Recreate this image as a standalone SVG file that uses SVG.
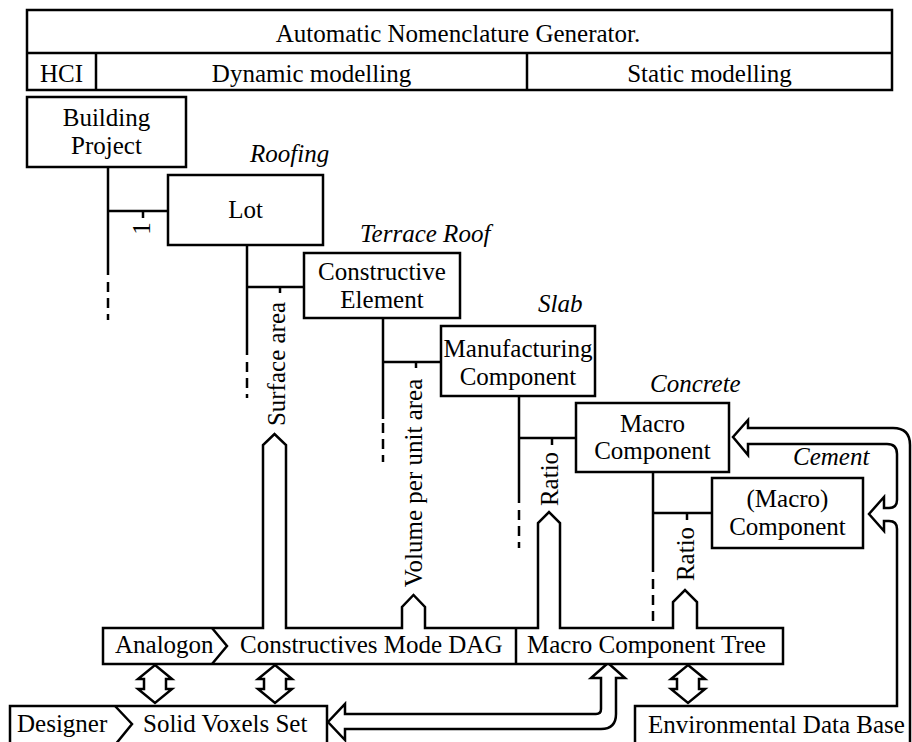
<svg xmlns="http://www.w3.org/2000/svg" width="912" height="742" viewBox="0 0 912 742">
<style>
.t{font-size:25px;fill:#000;font-family:'Liberation Serif','Times New Roman',serif}
.c{text-anchor:middle}
.i{font-style:italic}
.b{fill:#fff;stroke:#000;stroke-width:2.5}
.l{fill:none;stroke:#000;stroke-width:2.5}
.d{fill:none;stroke:#000;stroke-width:2.5;stroke-dasharray:10 6}
.h{fill:#fff;stroke:#000;stroke-width:2.5;stroke-linejoin:miter}
</style>
<rect width="912" height="742" fill="#fff"/>

<g id="header">
<rect class="b" x="27" y="10" width="865" height="80"/>
<line class="l" x1="27" y1="53" x2="892" y2="53"/>
<line class="l" x1="96" y1="53" x2="96" y2="90"/>
<line class="l" x1="527" y1="53" x2="527" y2="90"/>
<text class="t c" x="458" y="42">Automatic Nomenclature Generator.</text>
<text class="t c" x="61.5" y="82">HCI</text>
<text class="t c" x="311.5" y="82">Dynamic modelling</text>
<text class="t c" x="709.5" y="82">Static modelling</text>
</g>

<g id="connectors">
<line class="l" x1="108" y1="167" x2="108" y2="275"/>
<line class="d" x1="108" y1="282" x2="108" y2="320" stroke-dasharray="11 6"/>
<line class="l" x1="108" y1="211" x2="168" y2="211"/>
<line class="l" x1="143" y1="211" x2="143" y2="218"/>
<text class="t c" transform="translate(150,228.5) rotate(-90)">1</text>
<line class="l" x1="247" y1="245" x2="247" y2="355"/>
<line class="d" x1="247" y1="362" x2="247" y2="398" stroke-dasharray="8 5"/>
<line class="l" x1="247" y1="287" x2="304" y2="287"/>
<line class="l" x1="280" y1="287" x2="280" y2="293"/>
<text class="t c" transform="translate(285,364) rotate(-90)">Surface area</text>
<line class="l" x1="383" y1="318" x2="383" y2="419"/>
<line class="d" x1="383" y1="423" x2="383" y2="462" stroke-dasharray="10 5"/>
<line class="l" x1="383" y1="362" x2="441" y2="362"/>
<line class="l" x1="416" y1="362" x2="416" y2="368"/>
<text class="t c" transform="translate(422,483) rotate(-90)">Volume per unit area</text>
<line class="l" x1="519" y1="396" x2="519" y2="503"/>
<line class="d" x1="519" y1="510" x2="519" y2="548" stroke-dasharray="10 5"/>
<line class="l" x1="519" y1="438" x2="576" y2="438"/>
<line class="l" x1="552" y1="438" x2="552" y2="445"/>
<text class="t c" transform="translate(558,479) rotate(-90)">Ratio</text>
<line class="l" x1="653" y1="472" x2="653" y2="572"/>
<line class="d" x1="653" y1="579" x2="653" y2="624" stroke-dasharray="10 6"/>
<line class="l" x1="653" y1="513" x2="712" y2="513"/>
<line class="l" x1="687" y1="513" x2="687" y2="520"/>
<text class="t c" transform="translate(694,554) rotate(-90)">Ratio</text>

<path class="h" d="M155,665 L172,679 L166,679 L166,689 L172,689 L155,703 L138,689 L144,689 L144,679 L138,679 Z"/>
<path class="h" d="M275,665 L292,679 L286,679 L286,689 L292,689 L275,703 L258,689 L264,689 L264,679 L258,679 Z"/>
<path class="h" d="M688,665 L705,679 L699,679 L699,689 L705,689 L688,703 L671,689 L677,689 L677,679 L671,679 Z"/>

<path class="h" d="M608,663 L625,678 L616,678 V714 Q616,729 601,729 H345 V740 L328,722 L345,704 V714 H596 Q601,714 601,709 V678 L591,678 Z"/>

<path class="l" d="M910,745 V445 Q910,428 893,428 H748 V420 L733,437 L748,455 V444 H887 Q897,444 897,454 V500 Q897,508 889,508 H884 V497 L869,514 L884,531 V521 H889 Q897,521 897,529 V706 H635 V745"/>
</g>

<g id="bar">
<path class="b" d="M103,628 H263 V445 L274.5,434 L286,445 V628 H402 V607 L413.5,595 L425,607 V628 H538 V523 L549,512 L560,523 V628 H673 V602 L685,590 L697,602 V628 H783 V664 H103 Z"/>
<polyline class="l" points="212,628 227,646 212,664"/>
<line class="l" x1="516" y1="628" x2="516" y2="664"/>
<text class="t" x="115" y="653">Analogon</text>
<text class="t" x="240" y="653">Constructives Mode DAG</text>
<text class="t" x="527" y="653">Macro Component Tree</text>
</g>

<g id="solid-voxels">
<rect class="b" x="10" y="706" width="317" height="40"/>
<polyline class="l" points="115,706 132,724 115,745"/>
<text class="t" x="17" y="732">Designer</text>
<text class="t" x="143" y="732">Solid Voxels Set</text>
</g>

<g id="env-db">
<text class="t" x="648" y="733">Environmental Data Base</text>
</g>

<g id="building-project">
<rect class="b" x="27" y="97" width="159" height="70"/>
<text class="t c" x="106.5" y="126">Building</text>
<text class="t c" x="106.5" y="154">Project</text>
</g>

<g id="lot">
<rect class="b" x="168" y="175" width="155" height="70"/>
<text class="t c" x="245.5" y="218">Lot</text>
<text class="t i" x="250" y="162">Roofing</text>
</g>

<g id="constructive-element">
<rect class="b" x="304" y="253" width="156" height="65"/>
<text class="t c" x="382" y="280">Constructive</text>
<text class="t c" x="382" y="308">Element</text>
<text class="t i" x="360" y="242">Terrace Roof</text>
</g>

<g id="manufacturing-component">
<rect class="b" x="441" y="326" width="154" height="70"/>
<text class="t c" x="518" y="357" textLength="149" lengthAdjust="spacingAndGlyphs">Manufacturing</text>
<text class="t c" x="518" y="385">Component</text>
<text class="t i" x="538" y="312">Slab</text>
</g>

<g id="macro-component">
<rect class="b" x="576" y="403" width="153" height="69"/>
<text class="t c" x="652.5" y="432">Macro</text>
<text class="t c" x="652.5" y="459">Component</text>
<text class="t i" x="650" y="392">Concrete</text>
</g>

<g id="sub-macro-component">
<rect class="b" x="712" y="478" width="151" height="70"/>
<text class="t c" x="787.5" y="507">(Macro)</text>
<text class="t c" x="787.5" y="535">Component</text>
<text class="t i" x="793" y="465">Cement</text>
</g>
</svg>
